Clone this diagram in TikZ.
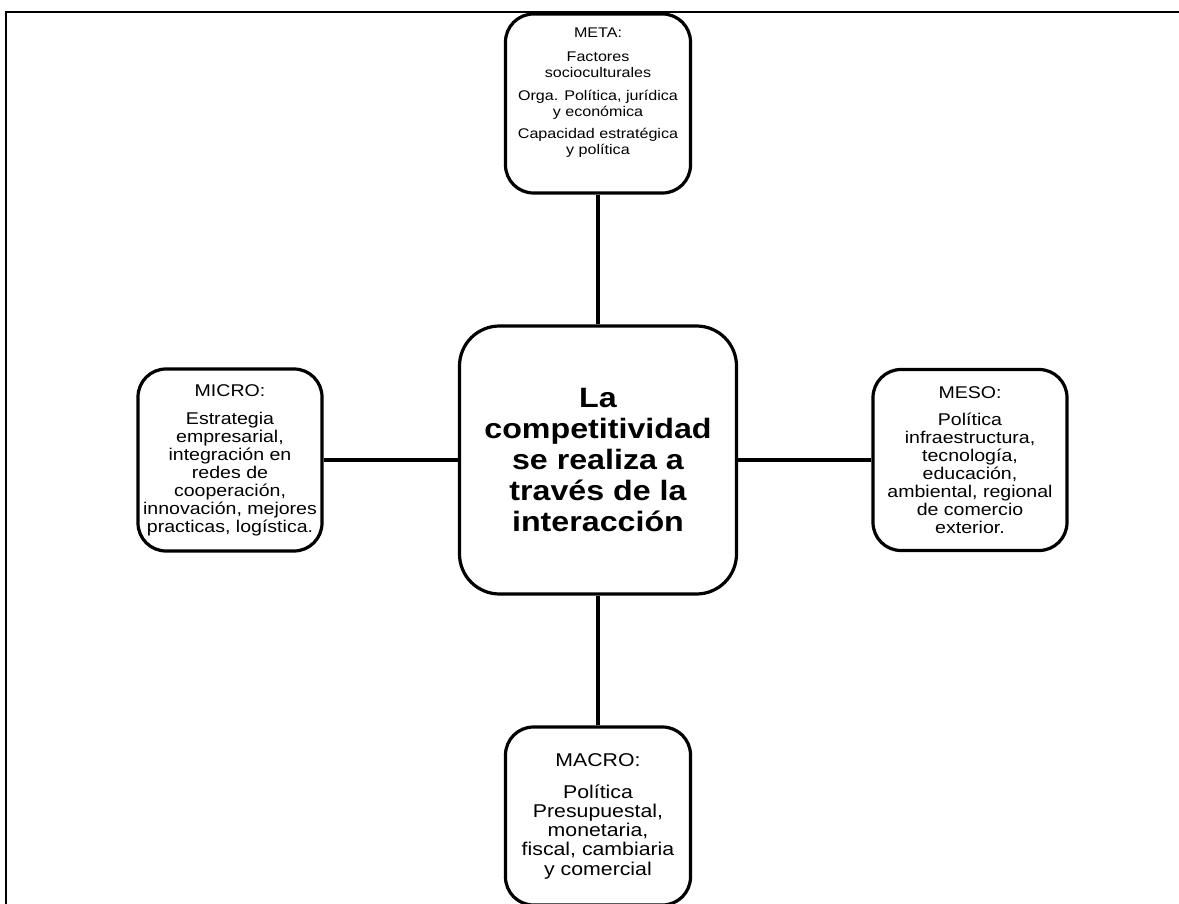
\documentclass[tikz,border=0pt]{standalone}
\usepackage{fontspec}
\setmainfont[FakeStretch=1.15]{Liberation Sans}
\begin{document}
\begin{tikzpicture}[x=1pt,y=-1pt,
  box/.style={draw=black, line width=3.2pt, rounded corners=28pt, fill=white,
    inner sep=0pt, align=center},
  txt/.style={inner sep=0pt, align=center},
  link/.style={draw=black, line width=3.2pt},
  frame/.style={draw=black, line width=2.4pt}]
\useasboundingbox (0,0) rectangle (1179,904);

% outer frame (open at right and bottom)
\draw[frame] (1179,12) -- (6,12) -- (6,904);

% central box
\node[box, rounded corners=40pt, minimum width=277pt, minimum height=268pt,
  font=\bfseries\fontsize{28}{31.2}\selectfont] (core) at (598,460)
  {La\\competitividad\\se realiza a\\través de la\\interacción};

% META (text sits near the top of its box)
\node[box, minimum width=185pt, minimum height=179pt] (meta) at (598,103.5) {};
\node[txt, anchor=north, font=\fontsize{14}{16.5}\selectfont] (metatext) at (598,28)
  {META:\\[7pt]Factores\\socioculturales\\[6pt]Orga. Política, jurídica\\y económica\\[5pt]Capacidad estratégica\\y política};

% MICRO
\node[box, minimum width=184pt, minimum height=182pt,
  font=\fontsize{17}{18}\selectfont] (micro) at (230,460)
  {MICRO:\\[10pt]Estrategia\\empresarial,\\integración en\\redes de\\cooperación,\\innovación, mejores\\practicas, logística.};

% MESO
\node[box, minimum width=194pt, minimum height=181pt,
  font=\fontsize{17}{18}\selectfont] (meso) at (970,460)
  {MESO:\\[9pt]Política\\infraestructura,\\tecnología,\\educación,\\ambiental, regional\\de comercio\\exterior.};

% MACRO
\node[box, minimum width=185pt, minimum height=178pt,
  font=\fontsize{18.5}{19.2}\selectfont] (macro) at (598,816)
  {MACRO:\\[13pt]Política\\Presupuestal,\\monetaria,\\fiscal, cambiaria\\y comercial};

% connectors
\draw[link] (meta) -- (core);
\draw[link] (micro) -- (core);
\draw[link] (meso) -- (core);
\draw[link] (macro) -- (core);
\end{tikzpicture}
\end{document}
